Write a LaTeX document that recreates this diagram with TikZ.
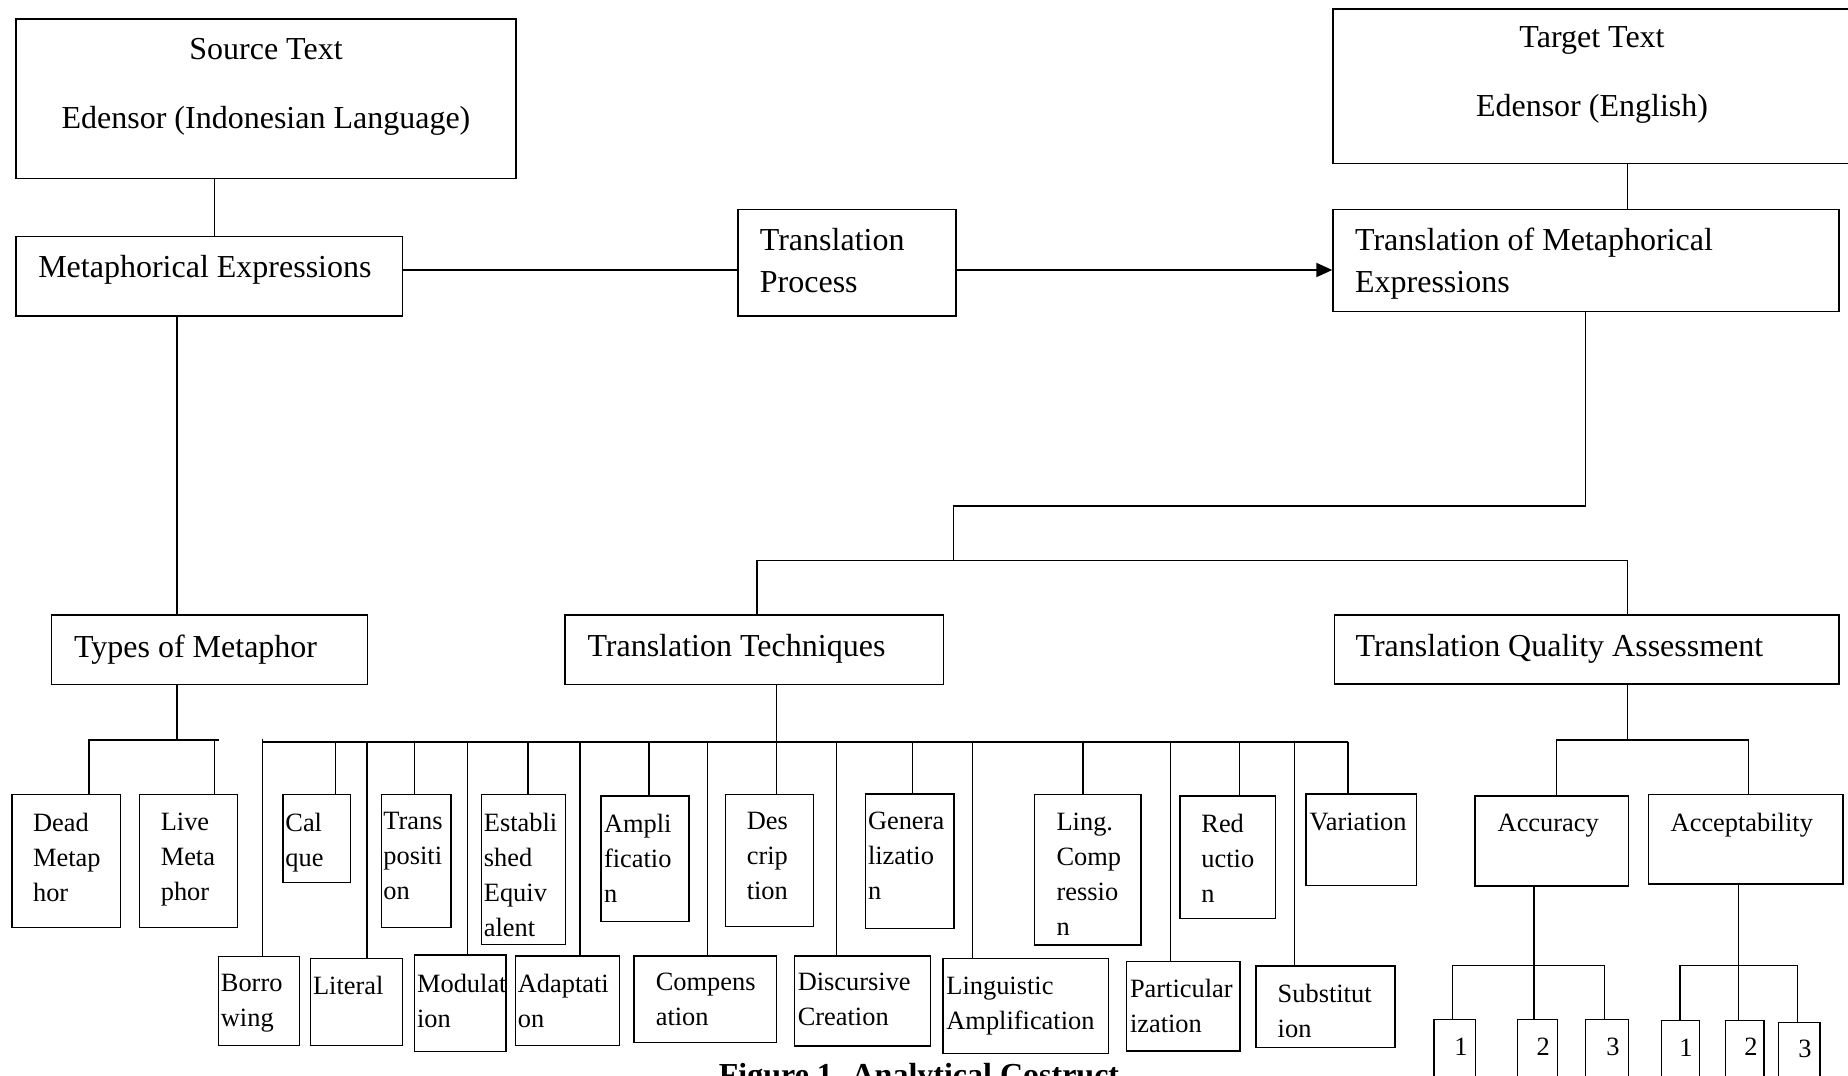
\documentclass[tikz,border=0pt]{standalone}
\usepackage{fontspec}
\setmainfont{Liberation Serif}
\usetikzlibrary{fit,arrows.meta}

\tikzset{every picture/.style={line width=0.7pt}}
\tikzset{
  box/.style={draw, rectangle, inner sep=0pt},
  bigtxt/.style={inner sep=0pt, anchor=north west, align=left, font=\fontsize{16}{21.2}\selectfont},
  headtxt/.style={inner sep=0pt, anchor=north, align=center, font=\fontsize{16}{34.5}\selectfont},
  smalltxt/.style={inner sep=0pt, anchor=north west, align=left, font=\fontsize{13.2}{17.5}\selectfont},
  numtxt/.style={inner sep=0pt, anchor=base, font=\fontsize{13.2}{17.5}\selectfont},
  captxt/.style={inner sep=0pt, anchor=base, font=\fontsize{16}{20}\selectfont\bfseries},
  mainline/.style={line width=1pt},
}

\begin{document}
\begin{tikzpicture}[x=0.5pt,y=0.5pt,yscale=-1,xscale=1]
\useasboundingbox (0,0) rectangle (1848,1076);

%Shape: Rectangle - top row
\node[box, fit={(15.8,19) (516,178.3)}] (src) {};
\node[box, fit={(1333,9) (1852,163.3)}] (tgt) {};
\node[box, fit={(15.8,236.7) (402.5,316)}] (me) {};
\node[box, fit={(737.8,209.3) (956.1,316)}] (tp) {};
\node[box, fit={(1333,209.3) (1839,311.7)}] (tme) {};

%Shape: Rectangle - middle row
\node[box, fit={(51.6,615) (367.4,684.3)}] (tom) {};
\node[box, fit={(565.1,615) (943.7,684.3)}] (tt) {};
\node[box, fit={(1334.2,615) (1838.9,684)}] (tqa) {};

%Shape: Rectangle - types of metaphor
\node[box, fit={(11.9,794.3) (120.6,927.7)}] (dead) {};
\node[box, fit={(139.2,794.3) (237.6,927.7)}] (live) {};

%Shape: Rectangle - techniques, upper
\node[box, fit={(283.1,794.3) (350.3,882.7)}] (cal) {};
\node[box, fit={(381.2,794.3) (450.8,927.7)}] (trp) {};
\node[box, fit={(481.6,794.3) (565.4,944.3)}] (est) {};
\node[box, fit={(601,796) (689,921.7)}] (amp) {};
\node[box, fit={(725.3,794.7) (813.5,926.7)}] (des) {};
\node[box, fit={(865.3,794) (953.9,928.3)}] (gen) {};
\node[box, fit={(1034.7,794.7) (1140.8,945)}] (lcp) {};
\node[box, fit={(1180,796) (1275.3,918.5)}] (red) {};
\node[box, fit={(1306,794) (1416.5,885.7)}] (var) {};

%Shape: Rectangle - techniques, lower
\node[box, fit={(218.3,956.7) (299.7,1045.7)}] (bor) {};
\node[box, fit={(310.4,958.3) (402.5,1045.7)}] (lit) {};
\node[box, fit={(414.4,955) (506.1,1051.7)}] (mod) {};
\node[box, fit={(515.2,956) (619.6,1045.5)}] (ada) {};
\node[box, fit={(633.9,956) (776.3,1042.7)}] (com) {};
\node[box, fit={(794.7,956) (930.6,1046)}] (dis) {};
\node[box, fit={(942.9,958.3) (1108.2,1053.3)}] (lam) {};
\node[box, fit={(1126.7,961.7) (1240,1051)}] (par) {};
\node[box, fit={(1256,966) (1395,1047.7)}] (sub) {};

%Shape: Rectangle - quality assessment
\node[box, fit={(1475,796) (1628.3,886)}] (acc) {};
\node[box, fit={(1648.5,794.3) (1843,884)}] (acp) {};
\node[box, fit={(1433.8,1019.3) (1475.2,1095)}] (a1) {};
\node[box, fit={(1517.3,1019.3) (1557.3,1095)}] (a2) {};
\node[box, fit={(1585.7,1019.3) (1628.3,1095)}] (a3) {};
\node[box, fit={(1661.7,1020.7) (1699.3,1095)}] (p1) {};
\node[box, fit={(1725.7,1020.7) (1764,1095)}] (p2) {};
\node[box, fit={(1778.3,1022.7) (1820,1095)}] (p3) {};

%Text Nodes
\node[headtxt] (src-t) at (266,37.3) {Source Text\\Edensor (Indonesian Language)};
\node[headtxt] (tgt-t) at (1592,26.3) {Target Text\\Edensor (English)};
\node[bigtxt] (me-t) at (37.6,254.7) {Metaphorical Expressions};
\node[bigtxt] (tp-t) at (759.2,227.3) {Translation\\Process};
\node[bigtxt] (tme-t) at (1354.4,227.3) {Translation of Metaphorical\\Expressions};
\node[bigtxt] (tom-t) at (73.4,634) {Types of Metaphor};
\node[bigtxt] (tt-t) at (586.8,634) {Translation Techniques};
\node[bigtxt] (tqa-t) at (1354.9,634) {Translation Quality Assessment};

\node[smalltxt] (dead-t) at (32.4,812) {Dead\\Metap\\hor};
\node[smalltxt] (live-t) at (160.1,812) {Live\\Meta\\phor};
\node[smalltxt] (cal-t) at (284.7,812) {Cal\\que};
\node[smalltxt] (trp-t) at (382.7,812) {Trans\\positi\\on};
\node[smalltxt] (est-t) at (483.2,812) {Establi\\shed\\Equiv\\alent};
\node[smalltxt] (amp-t) at (603.3,813.7) {Ampli\\ficatio\\n};
\node[smalltxt] (des-t) at (746.1,812) {Des\\crip\\tion};
\node[smalltxt] (gen-t) at (867.3,811.3) {Genera\\lizatio\\n};
\node[smalltxt] (lcp-t) at (1055.9,812) {Ling.\\Comp\\ressio\\n};
\node[smalltxt] (red-t) at (1200.7,813.7) {Red\\uctio\\n};
\node[smalltxt] (var-t) at (1309,812) {Variation};

\node[smalltxt] (bor-t) at (220.2,973.7) {Borro\\wing};
\node[smalltxt] (lit-t) at (312.4,975.3) {Literal};
\node[smalltxt] (mod-t) at (416.4,973.7) {Modulat\\ion};
\node[smalltxt] (ada-t) at (517.2,973.7) {Adaptati\\on};
\node[smalltxt] (com-t) at (655.1,972.7) {Compens\\ation};
\node[smalltxt] (dis-t) at (797.1,972.7) {Discursive\\Creation};
\node[smalltxt] (lam-t) at (945.7,976) {Linguistic\\Amplification};
\node[smalltxt] (par-t) at (1129.3,978.7) {Particular\\ization};
\node[smalltxt] (sub-t) at (1277,983) {Substitut\\ion};

\node[smalltxt] (acc-t) at (1497,813.7) {Accuracy};
\node[smalltxt] (acp-t) at (1670,812) {Acceptability};
\node[numtxt] (a1-t) at (1461,1055) {1};
\node[numtxt] (a2-t) at (1543.3,1055) {2};
\node[numtxt] (a3-t) at (1613,1055) {3};
\node[numtxt] (p1-t) at (1686,1056) {1};
\node[numtxt] (p2-t) at (1751,1055) {2};
\node[numtxt] (p3-t) at (1805,1057.3) {3};

\node[captxt] (fig) at (919,1085) {Figure 1. Analytical Costruct};

%Straight Lines - top
\coordinate (axis) at (0,270);
\draw (src.south -| 214.7,0) -- (me.north -| 214.7,0);
\draw[mainline] (me.east |- axis) -- (tp.west |- axis);
\draw[mainline, -{Triangle[length=8pt,width=7pt]}] (tp.east |- axis) -- (tme.west |- axis);
\draw (tgt.south -| 1627.7,0) -- (tme.north -| 1627.7,0);

%Straight Lines - down to the three branches
\coordinate (fork) at (953.7,560.7);
\draw (tme.south -| 1585.5,0) -- (1585.5,506) -| (fork);
\draw (tt.north -| 757,0) |- (fork) -| (tqa.north -| 1627.7,0);
\draw (me.south -| 177,0) -- (tom.north -| 177,0);

%Straight Lines - types of metaphor
\coordinate (tomfork) at (177,740);
\draw (tom.south -| tomfork) -- (tomfork);
\draw (dead.north -| 89,0) |- (218.7,740);
\draw (live.north -| 214.7,0) -- (214.7,740);

%Straight Lines - translation techniques
\coordinate (ttbar) at (776.3,742);
\draw (tt.south -| ttbar) -- (des.north -| ttbar);
\draw (262.2,739) -- (262.2,742) -- (1348.3,742);
\draw (262.2,742) -- (bor.north -| 262.2,0);
\draw (335.3,742) -- (cal.north -| 335.3,0);
\draw (366.9,742) -- (lit.north -| 366.9,0);
\draw (414.4,742) -- (trp.north -| 414.4,0);
\draw (467.4,742) -- (mod.north -| 467.4,0);
\draw (527.9,742) -- (est.north -| 527.9,0);
\draw (580.1,742) -- (ada.north -| 580.1,0);
\draw (649,742) -- (amp.north -| 649,0);
\draw (707.3,742) -- (com.north -| 707.3,0);
\draw (836.7,742) -- (dis.north -| 836.7,0);
\draw (912.2,742) -- (gen.north -| 912.2,0);
\draw (972.2,742) -- (lam.north -| 972.2,0);
\draw (1082.9,742) -- (lcp.north -| 1082.9,0);
\draw (1170.7,742) -- (par.north -| 1170.7,0);
\draw (1239.6,742) -- (red.north -| 1239.6,0);
\draw (1294.3,742) -- (sub.north -| 1294.3,0);
\draw (1348,742) -- (var.north -| 1348,0);

%Straight Lines - quality assessment
\draw (tqa.south -| 1627.7,0) -- (1627.7,740);
\draw (acc.north -| 1556.5,0) |- (1748.5,740) -- (acp.north -| 1748.5,0);
\draw (acc.south -| 1534,0) -- (a2.north -| 1534,0);
\draw (a1.north -| 1452.3,0) |- (1604.7,965.7) -- (a3.north -| 1604.7,0);
\draw (acp.south -| 1738.3,0) -- (p2.north -| 1738.3,0);
\draw (p1.north -| 1680,0) |- (1797.3,965.7) -- (p3.north -| 1797.3,0);

\end{tikzpicture}
\end{document}
